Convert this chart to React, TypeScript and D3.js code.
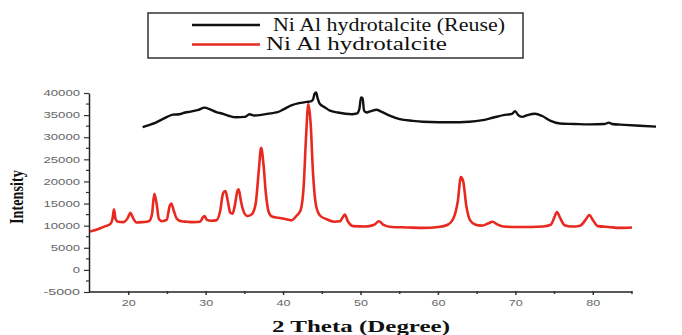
import React, { useEffect, useRef } from "react";
import * as d3 from "d3";

// red curve: fresh Ni Al hydrotalcite (2θ, intensity)
const freshTheta = [
  15.0, 16.0, 17.0, 17.6, 17.9, 18.1, 18.3, 18.6, 19.3, 19.9, 20.2, 20.6, 21.0, 21.8, 22.6, 23.0, 23.3, 23.6,
  23.9, 24.3, 24.9, 25.3, 25.5, 25.8, 26.2, 26.8, 27.5, 28.3, 29.2, 29.6, 29.8, 30.1, 30.6, 31.3, 31.8, 32.2,
  32.5, 32.8, 33.1, 33.4, 33.7, 34.0, 34.2, 34.5, 34.8, 35.3, 35.9, 36.4, 36.8, 37.1, 37.4, 37.7, 38.1, 38.6,
  39.3, 40.2, 41.0, 41.7, 42.2, 42.6, 42.9, 43.2, 43.5, 43.8, 44.2, 44.7, 45.5, 46.5, 47.3, 47.6, 47.9, 48.3,
  49.0, 50.5, 51.7, 52.3, 52.9, 54.0, 56.0, 58.0, 60.0, 61.2, 61.9, 62.5, 62.9, 63.2, 63.6, 64.1, 64.8, 65.6,
  66.4, 67.0, 67.6, 68.4, 70.0, 72.0, 73.5, 74.5, 75.0, 75.3, 75.7, 76.3, 77.2, 78.3, 79.0, 79.5, 79.9, 80.6,
  82.0, 83.5, 85.0,
];
const freshIntensity = [
  8700, 9200, 9900, 10300, 11500, 13700, 11500, 10900, 10800, 11800, 12900, 11600, 10700, 10800, 11000, 12500,
  17200, 15000, 11500, 11000, 11300, 14500, 15000, 13500, 11600, 11000, 10900, 10800, 10900, 11900, 12200,
  11300, 11100, 11200, 13200, 17400, 17800, 15500, 13000, 12700, 14500, 17600, 18200, 15500, 13400, 12200,
  12600, 15000, 22500, 27600, 24000, 17500, 13000, 12000, 11800, 11500, 11200, 12300, 13500, 19000, 30000,
  37500, 33000, 22000, 14500, 12300, 11500, 10900, 11000, 11800, 12500, 11000, 9900, 9800, 10200, 11000,
  10200, 9700, 9600, 9500, 9700, 10200, 11500, 15500, 21000, 20000, 14500, 11200, 10200, 10000, 10500, 10900,
  10300, 9800, 9700, 9700, 9800, 10200, 12000, 13100, 11800, 10100, 9800, 10000, 11300, 12400, 11400, 9900,
  9700, 9500, 9600,
];

// black curve: reused catalyst
const reuseTheta = [
  21.8, 22.5, 23.5, 24.5, 25.7, 26.5, 27.3, 28.0, 29.0, 29.8, 30.5, 31.3, 32.2, 33.0, 33.9, 35.0, 35.6, 36.2,
  37.3, 38.3, 39.1, 40.0, 41.0, 42.0, 43.0, 43.5, 43.8, 44.0, 44.2, 44.4, 44.7, 45.3, 46.0, 47.0, 48.0, 48.8,
  49.5, 49.8, 50.0, 50.2, 50.4, 50.7, 51.3, 52.0, 52.6, 53.7, 55.0, 56.7, 58.0, 60.0, 62.8, 64.0, 65.5, 67.0,
  68.4, 69.5, 69.9, 70.3, 70.8, 71.5, 72.5, 73.4, 74.5, 75.7, 77.5, 79.5, 81.5, 82.0, 82.4, 84.0, 86.0, 88.1,
];
const reuseIntensity = [
  32300, 32700, 33300, 34200, 35100, 35200, 35600, 35800, 36200, 36700, 36300, 35700, 35300, 34800, 34500,
  34600, 35200, 34900, 35100, 35400, 35600, 36300, 37200, 37700, 38000, 38100, 38500, 39800, 40100, 38800,
  37500, 36800, 36000, 35600, 35300, 35200, 35400, 36500, 39000, 38800, 36000, 35600, 35900, 36200, 35800,
  34900, 34100, 33700, 33500, 33400, 33400, 33500, 33800, 34400, 35000, 35300, 35900, 35000, 34600, 35000,
  35300, 34800, 33700, 33100, 33000, 32900, 33000, 33300, 33000, 32800, 32600, 32400,
];

const xTicks = [20, 30, 40, 50, 60, 70, 80];
const yTicks = [-5000, 0, 5000, 10000, 15000, 20000, 25000, 30000, 35000, 40000];

const seriesNames = ["Ni Al hydrotalcite (Reuse)", "Ni Al hydrotalcite"];
const seriesColors = ["#111111", "#e8291f"];

const W = 682;
const H = 335;

const App = () => {
  const ref = useRef<SVGSVGElement>(null);

  useEffect(() => {
    const svg = d3.select(ref.current);
    svg.selectAll("*").remove();

    const x = d3.scaleLinear().domain([15, 85]).range([90, 632]);
    const y = d3.scaleLinear().domain([-5000, 40000]).range([292, 93]);
    const axisX = 89;

    const tickFont = "'Liberation Sans', Arial, sans-serif";
    const serif = "'Liberation Serif', 'Times New Roman', serif";

    // y axis
    const yAxis = svg
      .append("g")
      .attr("transform", `translate(${axisX},0)`)
      .call(
        d3
          .axisLeft(y)
          .tickValues(yTicks)
          .tickSize(5)
          .tickSizeOuter(0)
          .tickPadding(4)
          .tickFormat((d) => String(d))
      );
    yAxis.select(".domain").attr("stroke", "#222").attr("stroke-width", 1.5);
    yAxis.selectAll(".tick line").attr("stroke", "#333").attr("stroke-width", 1.2);
    yAxis
      .selectAll<SVGTextElement, number>(".tick text")
      .attr("font-family", tickFont)
      .attr("font-size", 8.5)
      .attr("fill", "#666")
      .attr("textLength", (d) => String(d).length * 7.3)
      .attr("lengthAdjust", "spacingAndGlyphs");
    // minor y ticks
    svg
      .append("g")
      .selectAll("line")
      .data(d3.range(-2500, 40000, 5000))
      .join("line")
      .attr("x1", axisX - 3)
      .attr("x2", axisX)
      .attr("y1", (d) => y(d))
      .attr("y2", (d) => y(d))
      .attr("stroke", "#333")
      .attr("stroke-width", 1.2);

    // x axis
    svg
      .append("line")
      .attr("x1", axisX)
      .attr("x2", x(85))
      .attr("y1", y(-5000))
      .attr("y2", y(-5000))
      .attr("stroke", "#222")
      .attr("stroke-width", 1.5);
    svg
      .append("g")
      .selectAll("line")
      .data(d3.range(20, 86, 5))
      .join("line")
      .attr("x1", (d) => x(d))
      .attr("x2", (d) => x(d))
      .attr("y1", y(-5000) - 1)
      .attr("y2", (d) => y(-5000) + (d % 10 === 0 ? 3 : 2))
      .attr("stroke", "#333")
      .attr("stroke-width", 1.5);
    svg
      .append("g")
      .selectAll("text")
      .data(xTicks)
      .join("text")
      .attr("x", (d) => x(d))
      .attr("y", 306)
      .attr("text-anchor", "middle")
      .attr("font-family", tickFont)
      .attr("font-size", 8.5)
      .attr("fill", "#666")
      .attr("textLength", 14)
      .attr("lengthAdjust", "spacingAndGlyphs")
      .text((d) => String(d));

    // axis titles
    svg
      .append("text")
      .attr("x", 361)
      .attr("y", 332)
      .attr("text-anchor", "middle")
      .attr("font-family", serif)
      .attr("font-weight", "bold")
      .attr("font-size", 16)
      .attr("fill", "#111")
      .attr("textLength", 178)
      .attr("lengthAdjust", "spacingAndGlyphs")
      .text("2 Theta (Degree)");
    svg
      .append("text")
      .attr("transform", "translate(23,197) rotate(-90)")
      .attr("text-anchor", "middle")
      .attr("font-family", serif)
      .attr("font-weight", "bold")
      .attr("font-size", 18)
      .attr("fill", "#111")
      .attr("textLength", 54)
      .attr("lengthAdjust", "spacingAndGlyphs")
      .text("Intensity");

    const line = d3
      .line<[number, number]>()
      .x((d) => x(d[0]))
      .y((d) => y(d[1]))
      .curve(d3.curveMonotoneX);

    const reuse = reuseTheta.map((t, i) => [t, reuseIntensity[i]] as [number, number]);
    const fresh = freshTheta.map((t, i) => [t, freshIntensity[i]] as [number, number]);

    svg
      .append("path")
      .datum(reuse)
      .attr("d", line)
      .attr("fill", "none")
      .attr("stroke", seriesColors[0])
      .attr("stroke-width", 2.4)
      .attr("stroke-linejoin", "round");
    svg
      .append("path")
      .datum(fresh)
      .attr("d", line)
      .attr("fill", "none")
      .attr("stroke", seriesColors[1])
      .attr("stroke-width", 2.6)
      .attr("stroke-linejoin", "round");

    // legend
    const lg = svg.append("g");
    lg.append("rect")
      .attr("x", 148)
      .attr("y", 13)
      .attr("width", 375)
      .attr("height", 45)
      .attr("fill", "#fff")
      .attr("stroke", "#333")
      .attr("stroke-width", 1.5);
    const rows = [
      { y: 25, tx: 273, ty: 31, len: 232 },
      { y: 44.5, tx: 266, ty: 50, len: 181 },
    ];
    rows.forEach((r, i) => {
      lg.append("line")
        .attr("x1", 192)
        .attr("x2", 260)
        .attr("y1", r.y)
        .attr("y2", r.y)
        .attr("stroke", seriesColors[i])
        .attr("stroke-width", 2.6);
      lg.append("text")
        .attr("x", r.tx)
        .attr("y", r.ty)
        .attr("font-family", serif)
        .attr("font-size", 18)
        .attr("fill", "#111")
        .attr("textLength", r.len)
        .attr("lengthAdjust", "spacingAndGlyphs")
        .text(seriesNames[i]);
    });
  }, []);

  return (
    <svg
      ref={ref}
      width={W}
      height={H}
      style={{ position: "absolute", left: 0, top: 0, background: "#fff" }}
    />
  );
};

export default App;
